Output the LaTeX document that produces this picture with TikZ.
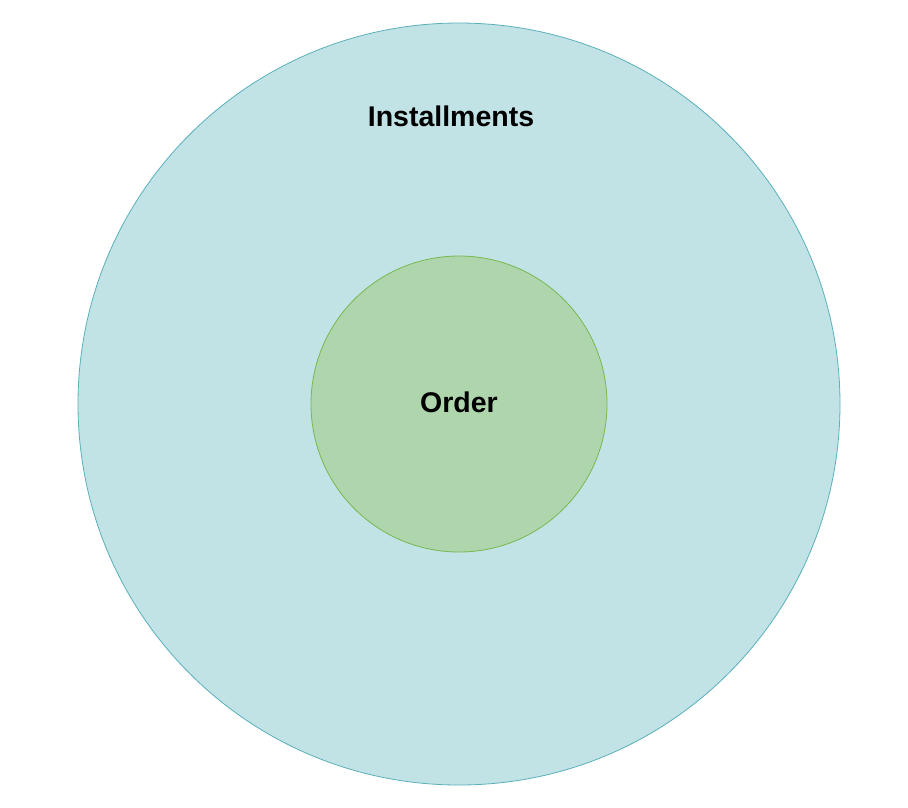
\documentclass[tikz,border=0pt]{standalone}
\usepackage{fontspec}
\setmainfont{Liberation Sans}
\usepackage{tikz}
\usetikzlibrary{positioning}
\definecolor{ringfill}{RGB}{194,227,230}
\definecolor{ringline}{RGB}{90,176,186}
\definecolor{corefill}{RGB}{174,213,172}
\definecolor{coreline}{RGB}{120,184,80}
\begin{document}
\begin{tikzpicture}[x=1pt,y=-1pt,every node/.style={font=\fontsize{28.5}{34}\selectfont\bfseries}]
  \useasboundingbox (0,0) rectangle (908,807);
  % outer ring: installments
  \node[circle,draw=ringline,fill=ringfill,line width=0.8pt,minimum size=762pt,inner sep=0pt] (installments) at (459,404) {};
  \node[below=94pt of installments.north,anchor=center,xshift=-8pt] (installmentslabel) {Installments};
  % inner circle: order
  \node[circle,draw=coreline,fill=corefill,line width=0.8pt,minimum size=296pt,inner sep=0pt] (order) at (459,404) {};
  \node (orderlabel) at (459,402) {Order};
\end{tikzpicture}
\end{document}
